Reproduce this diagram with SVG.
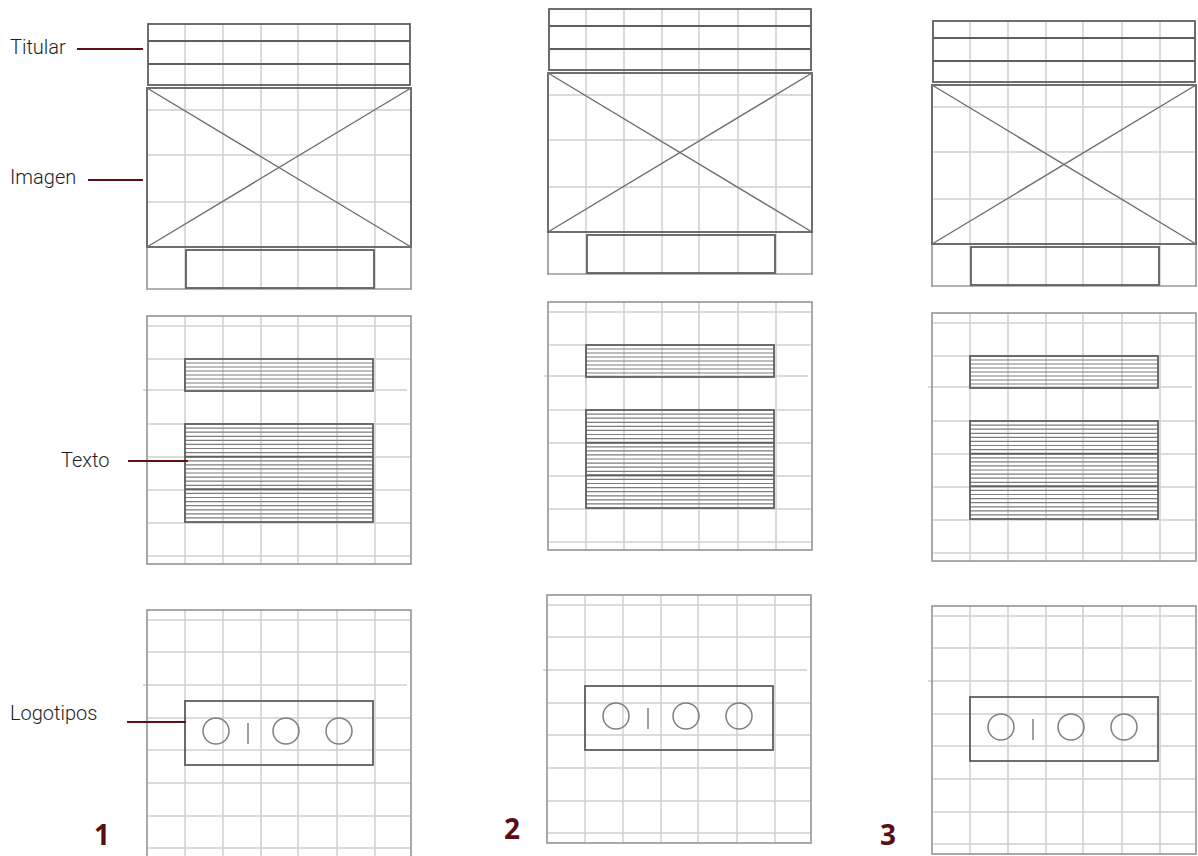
<svg xmlns="http://www.w3.org/2000/svg" xmlns:xlink="http://www.w3.org/1999/xlink" width="1198" height="856" viewBox="0 0 1198 856">
<style>
.grid{stroke:#d0d0d0;stroke-width:1.5;fill:none}
.frame{stroke:#9a9a9a;stroke-width:1.7;fill:none}
.box{stroke:#5f5f5f;stroke-width:1.8;fill:none}
.diag{stroke:#6e6e6e;stroke-width:1.4;fill:none}
.stripe{stroke:#7c7c7c;stroke-width:1.2;fill:none}
.thick{stroke:#5f5f5f;stroke-width:2;fill:none}
.logo{stroke:#808080;stroke-width:1.5;fill:none}
.lead{stroke:#5e1016;stroke-width:2.2;fill:none}
.lbl{font-family:Roboto,"Liberation Sans",sans-serif;font-weight:300;font-size:20px;fill:#1e1e1e}
.num{font-family:"Noto Sans","Liberation Sans",sans-serif;font-weight:700;font-size:28px;fill:#5a0d12}
</style>
<defs>
<g id="tplTop">
<path class="grid" d="M185 24V290M223 24V290M261 24V290M298 24V290M337 24V290M375 24V290M147 110H411M147 155H411M147 202H411"/>
<path class="frame" d="M147 247V290M411 247V290M147 289H411"/>
<rect class="box" x="148" y="24" width="262" height="61"/>
<path class="box" d="M148 41H410M148 64H410"/>
<rect class="box" x="147" y="88" width="264" height="159"/>
<path class="diag" d="M147 88L411 247M147 247L411 88"/>
<rect class="box" x="186" y="250" width="188" height="38"/>
</g>
<g id="tplText">
<path class="grid" d="M185 316V564M223 316V564M261 316V564M298 316V564M337 316V564M375 316V564M147 326H411M147 359H411M143 390H407M147 424H411M147 457H411M147 490H411M147 523H411M147 556H411"/>
<rect class="frame" x="147" y="316" width="264" height="248"/>
<path class="stripe" d="M185 363H373M185 367H373M185 371H373M185 375H373M185 379H373M185 383H373M185 387H373"/>
<rect class="box" x="185" y="359" width="188" height="32"/>
<path class="stripe" d="M185 428.1H373M185 432.2H373M185 436.3H373M185 440.3H373M185 444.4H373M185 448.5H373M185 452.6H373M185 460.8H373M185 464.8H373M185 468.9H373M185 473H373M185 477.1H373M185 481.2H373M185 485.3H373M185 493.4H373M185 497.5H373M185 501.6H373M185 505.7H373M185 509.8H373M185 513.8H373M185 517.9H373"/>
<path class="thick" d="M185 456.7H373M185 489.3H373"/>
<rect class="box" x="185" y="424" width="188" height="98"/>
</g>
<g id="tplLogo">
<path class="grid" d="M185 610V858M223 610V858M261 610V858M298 610V858M337 610V858M375 610V858M147 620H411M147 652H411M143 685H407M147 718H411M147 750H411M147 783H411M147 816H411M147 848H411"/>
<rect class="frame" x="147" y="610" width="264" height="248"/>
<rect class="box" x="185" y="701" width="188" height="64"/>
<circle class="logo" cx="216" cy="731" r="13"/>
<path class="logo" d="M248 723V744"/>
<circle class="logo" cx="286" cy="731" r="13"/>
<circle class="logo" cx="339" cy="731" r="13"/>
</g>
</defs>
<g id="col1-top"><use xlink:href="#tplTop"/></g>
<g id="col1-text"><use xlink:href="#tplText"/></g>
<g id="col1-logo"><use xlink:href="#tplLogo"/></g>
<g id="col2-top"><use xlink:href="#tplTop" transform="translate(401,-15)"/></g>
<g id="col2-text"><use xlink:href="#tplText" transform="translate(401,-14)"/></g>
<g id="col2-logo"><use xlink:href="#tplLogo" transform="translate(400,-15)"/></g>
<g id="col3-top"><use xlink:href="#tplTop" transform="translate(785,-3)"/></g>
<g id="col3-text"><use xlink:href="#tplText" transform="translate(785,-3)"/></g>
<g id="col3-logo"><use xlink:href="#tplLogo" transform="translate(785,-4)"/></g>
<g id="labels">
<text class="lbl" x="10" y="54">Titular</text>
<text class="lbl" x="10" y="184">Imagen</text>
<text class="lbl" x="61" y="467">Texto</text>
<text class="lbl" x="10" y="720">Logotipos</text>
<text class="num" x="94" y="845">1</text>
<text class="num" x="504" y="839">2</text>
<text class="num" x="880" y="845">3</text>
</g>
<g id="connectors">
<path class="lead" d="M77 49H143"/>
<path class="lead" d="M88 180H143"/>
<path class="lead" d="M128 461H188"/>
<path class="lead" d="M127 722H186"/>
</g>
</svg>
